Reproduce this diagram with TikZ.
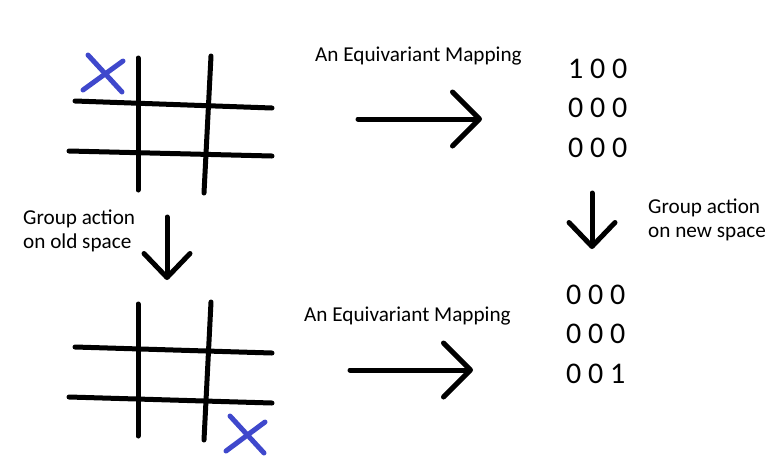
\documentclass[tikz,border=0pt]{standalone}
\usepackage{fontspec}
\setmainfont{Carlito}
\definecolor{paint_blue}{RGB}{63,72,204}
\usetikzlibrary{arrows.meta}

\begin{document}
\begin{tikzpicture}[
	x=1pt, y=-1pt,
	stroke/.style = {line width=5pt, line cap=round, line join=round},
	cross/.style = {stroke, draw=paint_blue},
	mapping/.style = {stroke, -{Straight Barb[length=27pt, width=54pt, line cap=round, line join=round]}},
	action/.style = {stroke, -{Straight Barb[length=24pt, width=46pt, line cap=round, line join=round]}},
	caption/.style = {font=\fontsize{21.2}{24}\selectfont, inner sep=0pt, anchor=base west, align=left},
	board/.style = {font=\fontsize{30}{39.5}\selectfont, inner sep=0pt, anchor=base west, align=left},
	]
	\useasboundingbox (0,0) rectangle (776,467);
	% old board, cross in the corner
	\draw[stroke] (138,58) -- (138,190);
	\draw[stroke] (211,56) -- (204,193);
	\draw[stroke] (75,101) -- (272,108);
	\draw[stroke] (69,151) -- (272,156);
	\draw[cross] (88,55) -- (122,92);
	\draw[cross] (123,61) -- (83,90);
	% moved board
	\draw[stroke] (138,304) -- (138,436);
	\draw[stroke] (211,302) -- (204,440);
	\draw[stroke] (75,347) -- (272,353);
	\draw[stroke] (69,397) -- (272,403);
	\draw[cross] (230,416) -- (264,453);
	\draw[cross] (265,422) -- (226,451);
	% texts (multi-line ones sit on their last baseline)
	\node[caption] (map_top) at (315,61) {An Equivariant Mapping};
	\node[caption] (map_bot) at (304,321) {An Equivariant Mapping};
	\node[caption] (act_old) at (23,248) {Group action\\on old space};
	\node[caption] (act_new) at (648,237) {Group action\\on new space};
	\node[board] (out_top) at (568,157) {1 0 0\\0 0 0\\0 0 0};
	\node[board] (out_bot) at (566,383) {0 0 0\\0 0 0\\0 0 1};
	% arrow ends
	\coordinate (top_from) at (358,119);
	\coordinate (top_to) at (482,119);
	\coordinate (bot_from) at (350,370);
	\coordinate (bot_to) at (473,370);
	\coordinate (old_from) at (167,217);
	\coordinate (old_to) at (167,280);
	\coordinate (new_from) at (592,193);
	\coordinate (new_to) at (592,249);
	\draw[mapping] (top_from) -- (top_to);
	\draw[mapping] (bot_from) -- (bot_to);
	\draw[action] (old_from) -- (old_to);
	\draw[action] (new_from) -- (new_to);
\end{tikzpicture}
\end{document}
